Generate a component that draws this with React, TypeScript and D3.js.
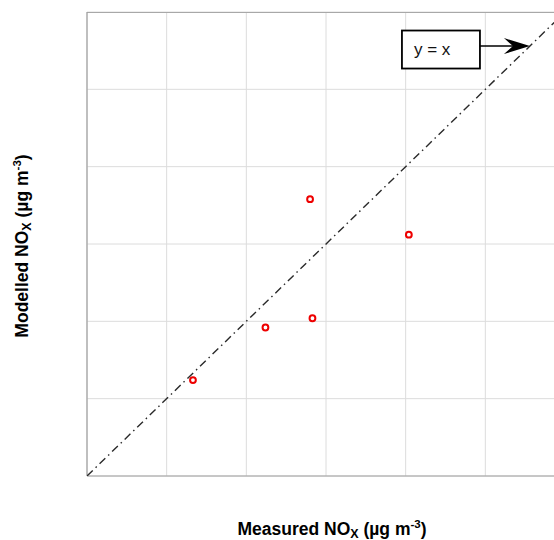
import React from "react";
import * as d3 from "d3";

const measured = [13.3, 22.4, 28.0, 28.3, 40.4];
const modelled = [12.4, 19.2, 35.8, 20.4, 31.2];
const gridTicks = [0, 10, 20, 30, 40, 50, 60];
const identityLine = [0, 60];
const annotationPoint = 55.6;
const annotationText = "y = x";

const W = 554;
const H = 540;

export default function App() {
  const x = d3.scaleLinear().domain([0, 60]).range([87, 565]);
  const y = d3.scaleLinear().domain([0, 60]).range([476, 12]);
  const font = "'Liberation Sans', Arial, sans-serif";
  const line = d3
    .line<number>()
    .x((d) => x(d))
    .y((d) => y(d));
  const tx = x(annotationPoint);
  const ty = y(annotationPoint);
  return (
    <svg
      width={W}
      height={H}
      style={{ position: "absolute", left: 0, top: 0, background: "#fff" }}
      fontFamily={font}
    >
      <defs>
        <clipPath id="plot">
          <rect x={87} y={12} width={W - 87} height={464} />
        </clipPath>
      </defs>
      {gridTicks.map((t) => (
        <line key={"gx" + t} x1={x(t)} x2={x(t)} y1={12} y2={476} stroke="#dcdcdc" strokeWidth={1} />
      ))}
      {gridTicks.map((t) => (
        <line key={"gy" + t} x1={87} x2={W} y1={y(t)} y2={y(t)} stroke="#dcdcdc" strokeWidth={1} />
      ))}
      <line x1={87} x2={W} y1={12.5} y2={12.5} stroke="#a8a8a8" strokeWidth={1} />
      <line x1={87} x2={87} y1={12} y2={476} stroke="#a0a0a0" strokeWidth={1.2} />
      <line x1={87} x2={W} y1={476} y2={476} stroke="#a0a0a0" strokeWidth={1.2} />
      <path
        d={line(identityLine) || ""}
        clipPath="url(#plot)"
        fill="none"
        stroke="#2a2a2a"
        strokeWidth={1.4}
        strokeDasharray="8,4,1.5,4"
      />
      {measured.map((m, i) => (
        <circle key={i} cx={x(m)} cy={y(modelled[i])} r={2.9} fill="#fff" stroke="#ee0000" strokeWidth={2} />
      ))}
      <rect x={tx - 128} y={ty - 15.5} width={78} height={38} fill="#fff" stroke="#000" strokeWidth={1.8} />
      <text x={tx - 116} y={ty + 9} fontSize={17} fill="#111">
        {annotationText}
      </text>
      <line x1={tx - 50} x2={tx - 14} y1={ty} y2={ty} stroke="#000" strokeWidth={1.6} />
      <path
        d={`M${tx},${ty} L${tx - 26},${ty - 8} L${tx - 17},${ty} L${tx - 26},${ty + 8} Z`}
        fill="#000"
      />
      <text x={332} y={535} textAnchor="middle" fontSize={17.5} fontWeight="bold" fill="#000">
        Measured NO
        <tspan fontSize={12.5} dy={2.5}>X</tspan>
        <tspan dy={-2.5}> (µg m</tspan>
        <tspan fontSize={11.5} dy={-7}>-3</tspan>
        <tspan dy={7}>)</tspan>
      </text>
      <text
        transform={`translate(28,246) rotate(-90)`}
        textAnchor="middle"
        fontSize={17.5}
        fontWeight="bold"
        fill="#000"
      >
        Modelled NO
        <tspan fontSize={12.5} dy={3}>X</tspan>
        <tspan dy={-3}> (µg m</tspan>
        <tspan fontSize={11.5} dy={-7}>-3</tspan>
        <tspan dy={7}>)</tspan>
      </text>
    </svg>
  );
}
